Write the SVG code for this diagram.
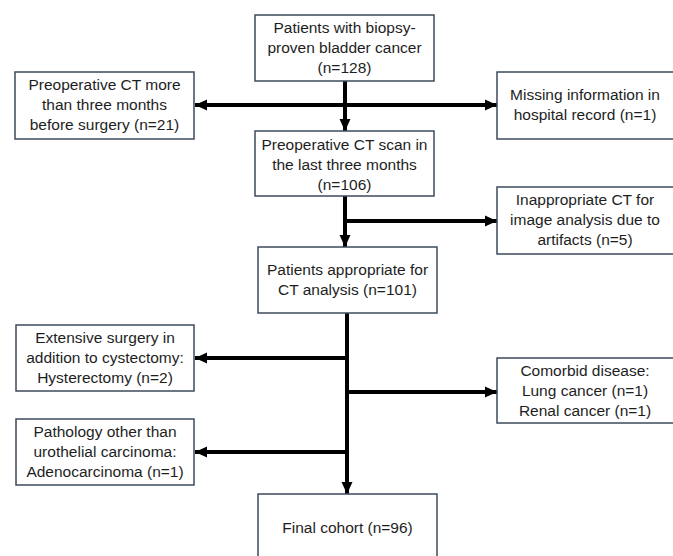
<svg xmlns="http://www.w3.org/2000/svg" width="673" height="556" viewBox="0 0 673 556">
<defs>
<style>
.box{fill:#fff;stroke:#3e4b5b;stroke-width:1.5}
.t{font-family:"Liberation Sans",Arial,sans-serif;font-size:15.5px;fill:#1e1e1e;text-anchor:middle}
.c{stroke:#000;stroke-width:4;fill:none}
</style>
<marker id="ah" markerUnits="userSpaceOnUse" markerWidth="13" markerHeight="12" refX="12" refY="5.5" orient="auto-start-reverse" viewBox="0 0 13 11">
<path d="M0,0 L12,5.5 L0,11 z" fill="#000"/>
</marker>
</defs>
<rect width="673" height="556" fill="#fff"/>
<g id="connectors">
<line class="c" x1="345" y1="81" x2="345" y2="131" marker-end="url(#ah)"/>
<line class="c" x1="195" y1="105" x2="497" y2="105" marker-start="url(#ah)" marker-end="url(#ah)"/>
<line class="c" x1="345" y1="196" x2="345" y2="247" marker-end="url(#ah)"/>
<line class="c" x1="343" y1="221" x2="497" y2="221" marker-end="url(#ah)"/>
<line class="c" x1="347" y1="313" x2="347" y2="494" marker-end="url(#ah)"/>
<line class="c" x1="349" y1="358" x2="195" y2="358" marker-end="url(#ah)"/>
<line class="c" x1="345" y1="392" x2="497" y2="392" marker-end="url(#ah)"/>
<line class="c" x1="349" y1="452" x2="195" y2="452" marker-end="url(#ah)"/>
</g>
<g id="n1">
<rect class="box" x="255" y="15" width="179" height="66"/>
<text class="t" x="344.5" y="33">Patients with biopsy-</text>
<text class="t" x="344.5" y="53">proven bladder cancer</text>
<text class="t" x="344.5" y="73">(n=128)</text>
</g>
<g id="n_left1">
<rect class="box" x="15" y="72" width="179" height="67"/>
<text class="t" x="104.5" y="90">Preoperative CT more</text>
<text class="t" x="104.5" y="110">than three months</text>
<text class="t" x="104.5" y="130">before surgery (n=21)</text>
</g>
<g id="n_right1">
<rect class="box" x="497" y="72" width="180" height="67"/>
<text class="t" x="585" y="100">Missing information in</text>
<text class="t" x="585" y="120">hospital record (n=1)</text>
</g>
<g id="n2">
<rect class="box" x="255" y="131" width="179" height="65"/>
<text class="t" x="344.5" y="150">Preoperative CT scan in</text>
<text class="t" x="344.5" y="170">the last three months</text>
<text class="t" x="344.5" y="190">(n=106)</text>
</g>
<g id="n_right2">
<rect class="box" x="497" y="187" width="180" height="67"/>
<text class="t" x="585" y="205">Inappropriate CT for</text>
<text class="t" x="585" y="225">image analysis due to</text>
<text class="t" x="585" y="245">artifacts (n=5)</text>
</g>
<g id="n3">
<rect class="box" x="258" y="247" width="179" height="66"/>
<text class="t" x="347.5" y="275">Patients appropriate for</text>
<text class="t" x="347.5" y="295">CT analysis (n=101)</text>
</g>
<g id="n_left4">
<rect class="box" x="16" y="325" width="178" height="66"/>
<text class="t" x="105" y="343">Extensive surgery in</text>
<text class="t" x="105" y="363">addition to cystectomy:</text>
<text class="t" x="105" y="383">Hysterectomy (n=2)</text>
</g>
<g id="n_right5">
<rect class="box" x="497" y="358" width="180" height="65"/>
<text class="t" x="585" y="376">Comorbid disease:</text>
<text class="t" x="585" y="396">Lung cancer (n=1)</text>
<text class="t" x="585" y="416">Renal cancer (n=1)</text>
</g>
<g id="n_left6">
<rect class="box" x="16" y="419" width="178" height="66"/>
<text class="t" x="105" y="437">Pathology other than</text>
<text class="t" x="105" y="457">urothelial carcinoma:</text>
<text class="t" x="105" y="477">Adenocarcinoma (n=1)</text>
</g>
<g id="n_final">
<rect class="box" x="258" y="494" width="179" height="70"/>
<text class="t" x="347.5" y="533">Final cohort (n=96)</text>
</g>
</svg>
